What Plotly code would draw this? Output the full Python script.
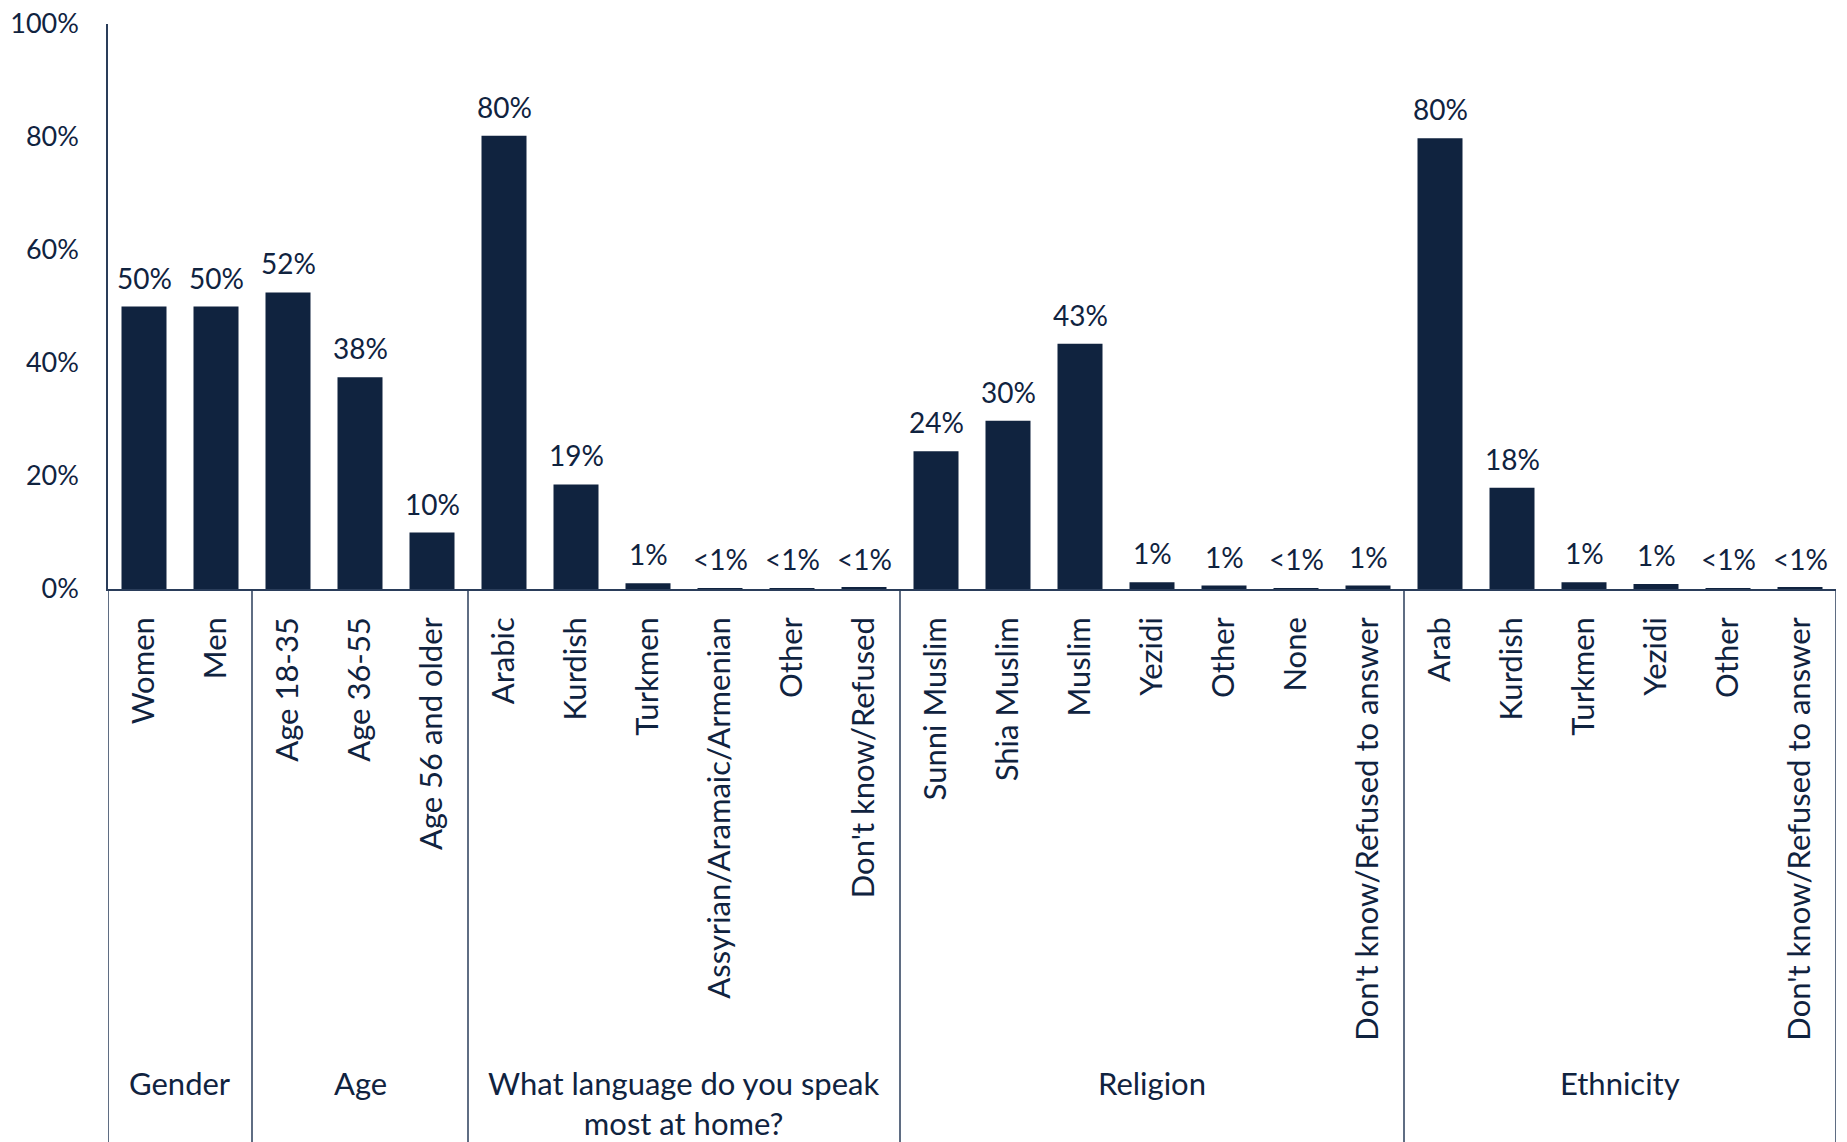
import plotly.graph_objects as go

categories = ["Women", "Men",
              "Age 18-35", "Age 36-55", "Age 56 and older",
              "Arabic", "Kurdish", "Turkmen", "Assyrian/Aramaic/Armenian", "Other", "Don't know/Refused",
              "Sunni Muslim", "Shia Muslim", "Muslim", "Yezidi", "Other", "None", "Don't know/Refused to answer",
              "Arab", "Kurdish", "Turkmen", "Yezidi", "Other", "Don't know/Refused to answer"]
values = [50, 50,
          52.5, 37.5, 10,
          80.2, 18.5, 1.0, 0.1, 0.1, 0.2,
          24.4, 29.8, 43.4, 1.2, 0.6, 0.1, 0.6,
          79.8, 17.9, 1.2, 0.9, 0.1, 0.2]
value_labels = ["50%", "50%",
                "52%", "38%", "10%",
                "80%", "19%", "1%", "<1%", "<1%", "<1%",
                "24%", "30%", "43%", "1%", "1%", "<1%", "1%",
                "80%", "18%", "1%", "1%", "<1%", "<1%"]
groups = ["Gender", "Age", "What language do you speak<br>most at home?", "Religion", "Ethnicity"]
group_sizes = [2, 3, 6, 7, 6]
y_ticks = [0, 20, 40, 60, 80, 100]

NAVY = "#10233F"
LINE = "#2A3D5A"
FONT = "Lato"

xs = list(range(len(categories)))

fig = go.Figure()
fig.add_trace(go.Bar(
    x=xs, y=values,
    marker=dict(color=NAVY, line=dict(width=0)),
    hoverinfo="skip",
))

# value labels above bars
for x, v, t in zip(xs, values, value_labels):
    fig.add_annotation(x=x, y=v, xref="x", yref="y", text=t, showarrow=False,
                       yanchor="bottom", xanchor="center", yshift=10,
                       font=dict(family=FONT, size=28, color=NAVY))

# group dividers and labels
bounds = [-0.5]
for s in group_sizes:
    bounds.append(bounds[-1] + s)
for b in bounds:
    fig.add_shape(type="line", xref="x", yref="paper", x0=b, x1=b, y0=0, y1=-0.98,
                  line=dict(color=LINE, width=1.5))
for i, g in enumerate(groups):
    c = (bounds[i] + bounds[i + 1]) / 2
    fig.add_annotation(x=c, xref="x", y=-0.838, yref="paper", text=g, showarrow=False,
                       yanchor="top", xanchor="center",
                       font=dict(family=FONT, size=31, color=NAVY))

fig.update_layout(
    width=1847, height=1142,
    margin=dict(l=108, r=11, t=24, b=553, autoexpand=False),
    plot_bgcolor="white", paper_bgcolor="white",
    bargap=0.375, showlegend=False,
    font=dict(family=FONT, size=27, color=NAVY),
)
fig.update_xaxes(
    range=[-0.5, len(categories) - 0.5], automargin=False,
    tickmode="array", tickvals=xs, ticktext=categories, tickangle=-90,
    showgrid=False, zeroline=False, showline=True, linecolor=LINE, linewidth=1.5,
    ticks="", ticklabelstandoff=14,
    tickfont=dict(family=FONT, size=31, color=NAVY),
)
fig.update_yaxes(
    range=[0, 100], tickvals=y_ticks, ticktext=[f"{v}%" for v in y_ticks], automargin=False,
    showgrid=False, zeroline=False, showline=True, linecolor=LINE, linewidth=1.5,
    ticks="", ticklabelstandoff=22,
    tickfont=dict(family=FONT, size=27, color=NAVY),
)

fig.write_html("out.html", config={"displayModeBar": False},
               post_script="document.body.style.margin='0';document.body.style.overflow='hidden';")
